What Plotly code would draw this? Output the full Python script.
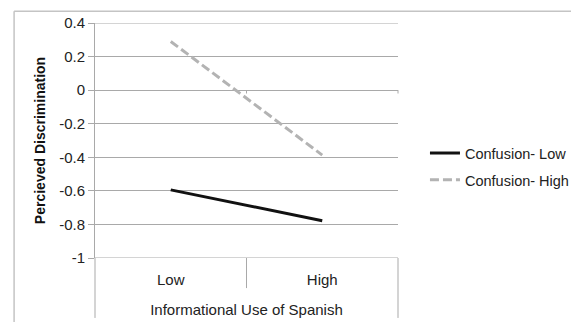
import plotly.graph_objects as go

categories = ["Low", "High"]
series_names = ["Confusion- Low", "Confusion- High"]
confusion_low = [-0.594, -0.778]
confusion_high = [0.29, -0.387]
y_tickvals = [0.4, 0.2, 0, -0.2, -0.4, -0.6, -0.8, -1]
y_ticktext = ["0.4", "0.2", "0", "-0.2", "-0.4", "-0.6", "-0.8", "-1"]
x_title = "Informational Use of Spanish"
y_title = "Percieved Discrimination"

FONT = "Liberation Sans, Arial, sans-serif"
GRID = "#a9a9a9"
TXT = "#222222"

fig = go.Figure()
fig.add_trace(go.Scatter(x=categories, y=confusion_low, mode="lines", name=series_names[0],
                         line=dict(color="#111111", width=3), legendgroup="a"))
fig.add_trace(go.Scatter(x=categories, y=confusion_high, mode="lines", name=series_names[1],
                         line=dict(color="#b3b3b3", width=3, dash="9px,4px"), legendgroup="b"))

# page body has an 8px margin, so the figure is offset by 8px
fig.update_layout(
    width=571, height=314,
    margin=dict(l=87, r=181, t=15, b=64, autoexpand=False),
    paper_bgcolor="white", plot_bgcolor="white",
    font=dict(family=FONT, size=15, color=TXT),
    showlegend=True,
    legend=dict(x=1.089, y=0.389, xanchor="left", yanchor="middle",
                font=dict(size=14.5, color=TXT), tracegroupgap=5,
                bgcolor="rgba(0,0,0,0)"),
    xaxis=dict(type="category", range=[-0.5, 1.5], showgrid=False, zeroline=False,
               automargin=False,
               showline=False, ticks="outside", ticklen=8, tickcolor="rgba(0,0,0,0)",
               tickfont=dict(size=15, color=TXT),
               title=dict(text=x_title, font=dict(size=15, color=TXT), standoff=17)),
    yaxis=dict(range=[-1, 0.4], tickvals=y_tickvals, ticktext=y_ticktext,
               automargin=False,
               showgrid=True, gridcolor=GRID, gridwidth=1, zeroline=False,
               showline=True, linecolor=GRID, linewidth=1,
               ticks="outside", ticklen=6, tickcolor=GRID,
               tickfont=dict(size=15, color=TXT),
               title=dict(text="<b>" + y_title + "</b>", font=dict(size=14, color="#111111"), standoff=10)),
)

shapes = []
shapes.append(dict(type="line", xref="paper", yref="y", x0=0, x1=1, y0=0.4, y1=0.4, line=dict(color=GRID, width=1)))
shapes.append(dict(type="line", xref="paper", yref="y", x0=0, x1=1, y0=-1, y1=-1, line=dict(color=GRID, width=1)))
shapes.append(dict(type="line", xref="paper", yref="paper", x0=0, x1=0, y0=-0.255, y1=0, line=dict(color=GRID, width=1)))
shapes.append(dict(type="line", xref="paper", yref="paper", x0=1, x1=1, y0=-0.255, y1=0, line=dict(color=GRID, width=1)))
shapes.append(dict(type="line", xref="paper", yref="paper", x0=0.5, x1=0.5, y0=-0.128, y1=0, line=dict(color=GRID, width=1)))
for xp in [0.5, 1.0]:
    shapes.append(dict(type="line", xref="paper", yref="y", x0=xp, x1=xp, y0=0, y1=-0.02, line=dict(color=GRID, width=1)))
shapes.append(dict(type="line", xref="paper", yref="paper", x0=-0.267, x1=1.7, y0=1.05, y1=1.05, line=dict(color="#c4c4c4", width=1.5)))
shapes.append(dict(type="line", xref="paper", yref="paper", x0=-0.267, x1=-0.267, y0=-0.3, y1=1.05, line=dict(color="#c4c4c4", width=1.5)))
fig.update_layout(shapes=shapes)

fig.write_html("out.html")
